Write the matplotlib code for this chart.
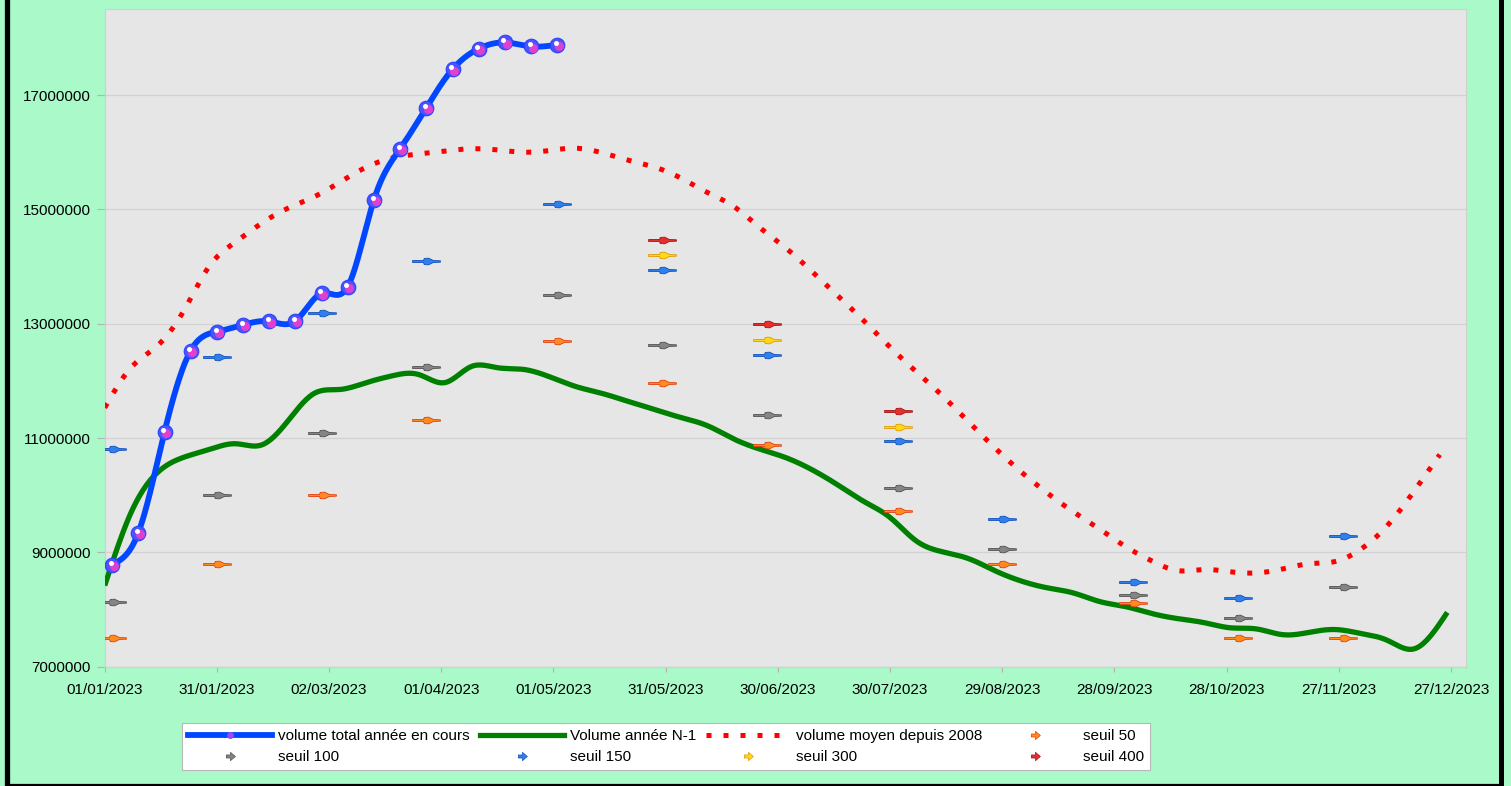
import numpy as np
import pandas as pd
import matplotlib
matplotlib.use("Agg")
import matplotlib.pyplot as plt
import matplotlib.dates as mdates
from matplotlib.path import Path
from matplotlib.lines import Line2D
from matplotlib import transforms
from matplotlib.ticker import FixedLocator, FuncFormatter

plt.rcParams['font.family'] = ['Liberation Sans', 'DejaVu Sans']

# volume total année en cours (weekly)
current_dates = pd.date_range('2023-01-03', periods=18, freq='7D')
current_volume = [8785000, 9345000, 11110000, 12530000, 12860000, 12980000,
                  13040000, 13050000, 13530000, 13650000, 15170000, 16060000,
                  16780000, 17450000, 17810000, 17920000, 17850000, 17880000]

# Volume année N-1
previous_dates = list(pd.date_range('2023-01-01', periods=51, freq='7D')) + [pd.Timestamp('2023-12-26')]
previous_volume = [8420000, 9690000, 10390000, 10660000, 10800000, 10900000, 10880000,
                   11300000, 11780000, 11850000, 11970000, 12090000, 12110000, 11970000,
                   12250000, 12230000, 12200000, 12070000, 11900000, 11780000, 11640000,
                   11500000, 11360000, 11220000, 10990000, 10810000, 10660000, 10450000,
                   10180000, 9890000, 9610000, 9200000, 9010000, 8890000, 8680000,
                   8500000, 8380000, 8290000, 8140000, 8050000, 7930000, 7840000,
                   7770000, 7680000, 7660000, 7560000, 7600000, 7650000, 7580000,
                   7460000, 7310000, 7950000]

# volume moyen depuis 2008
mean_dates = pd.date_range('2023-01-01', periods=52, freq='7D')
mean_volume = [11530000, 12230000, 12610000, 13210000, 14010000, 14430000, 14760000,
               15020000, 15220000, 15480000, 15740000, 15900000, 15970000, 16020000,
               16060000, 16040000, 16000000, 16030000, 16070000, 15990000, 15860000,
               15740000, 15550000, 15300000, 15060000, 14690000, 14330000, 13920000,
               13490000, 13050000, 12590000, 12160000, 11740000, 11280000, 10830000,
               10410000, 10040000, 9710000, 9410000, 9100000, 8850000, 8680000,
               8700000, 8660000, 8640000, 8710000, 8800000, 8840000, 9060000,
               9470000, 10060000, 10710000]

# seuils
seuil_dates = pd.to_datetime(['2023-01-03', '2023-01-31', '2023-02-28', '2023-03-28',
                              '2023-05-02', '2023-05-30', '2023-06-27', '2023-08-01',
                              '2023-08-29', '2023-10-03', '2023-10-31', '2023-11-28'])
nan = np.nan
seuil_50 = [7510000, 8800000, 10010000, 11320000, 12700000, 11970000,
            10870000, 9730000, 8790000, 8110000, 7500000, 7500000]
seuil_100 = [8140000, 10010000, 11080000, 12250000, 13510000, 12620000,
             11400000, 10130000, 9050000, 8250000, 7850000, 8390000]
seuil_150 = [10800000, 12410000, 13190000, 14100000, 15100000, 13940000,
             12450000, 10940000, 9590000, 8490000, 8200000, 9290000]
seuil_300 = [nan, nan, nan, nan, nan, 14200000, 12720000, 11200000, nan, nan, nan, nan]
seuil_400 = [nan, nan, nan, nan, nan, 14460000, 13000000, 11470000, nan, nan, nan, nan]

tick_dates = pd.date_range('2023-01-01', periods=13, freq='30D')
y_ticks = [7000000, 9000000, 11000000, 13000000, 15000000, 17000000]


def smooth(x, y, num=800):
    # natural cubic spline, like the "smooth line" option of the spreadsheet
    x = np.asarray(x, float)
    y = np.asarray(y, float)
    n = len(x)
    h = np.diff(x)
    A = np.zeros((n, n))
    b = np.zeros(n)
    A[0, 0] = A[-1, -1] = 1
    for i in range(1, n - 1):
        A[i, i - 1] = h[i - 1]
        A[i, i] = 2 * (h[i - 1] + h[i])
        A[i, i + 1] = h[i]
        b[i] = 6 * ((y[i + 1] - y[i]) / h[i] - (y[i] - y[i - 1]) / h[i - 1])
    m = np.linalg.solve(A, b)
    xs = np.linspace(x[0], x[-1], num)
    k = np.clip(np.searchsorted(x, xs) - 1, 0, n - 2)
    t0 = xs - x[k]
    t1 = x[k + 1] - xs
    hk = h[k]
    ys = (m[k] * t1 ** 3 + m[k + 1] * t0 ** 3) / (6 * hk) \
        + (y[k] / hk - m[k] * hk / 6) * t1 + (y[k + 1] / hk - m[k + 1] * hk / 6) * t0
    return xs, ys


# arrow shaped marker for the thresholds
arrow_verts = [(-1, -0.07), (-0.22, -0.07), (-0.16, -0.22), (0.15, -0.24), (0.5, -0.07),
               (1, -0.05), (1, 0.05), (0.5, 0.07), (0.15, 0.24), (-0.16, 0.22),
               (-0.22, 0.07), (-1, 0.07), (-1, -0.07)]
arrow = Path(arrow_verts)
small_arrow = Path([(-0.6, -0.22), (0.0, -0.22), (0.0, -0.6), (0.7, 0.0), (0.0, 0.6),
                    (0.0, 0.22), (-0.6, 0.22), (-0.6, -0.22)])

seuil_styles = [
    ('seuil 50', seuil_50, '#ff8a1e', '#e0400c'),
    ('seuil 100', seuil_100, '#858585', '#505050'),
    ('seuil 150', seuil_150, '#2f80ea', '#1050c0'),
    ('seuil 300', seuil_300, '#ffd816', '#e09a00'),
    ('seuil 400', seuil_400, '#e43030', '#a81010'),
]

fig = plt.figure(figsize=(15.11, 7.86), dpi=100, facecolor='#a9f9c9')
ax = fig.add_axes([0.0693, 0.1518, 0.9009, 0.8364])
ax.set_facecolor('#e6e6e6')

xc = mdates.date2num(current_dates)
xp = mdates.date2num(previous_dates)
xm = mdates.date2num(mean_dates)
xsd = mdates.date2num(seuil_dates)

gx, gy = smooth(xp, previous_volume)
ax.plot(gx, gy, color='#008000', lw=3.8, zorder=3, solid_capstyle='butt')

rx, ry = smooth(xm, mean_volume)
ax.plot(rx, ry, color='#ff0000', lw=3.6, linestyle=(0, (1, 2.4)), zorder=4,
        dash_capstyle='butt')

for label, vals, face, edge in seuil_styles:
    ax.plot(xsd, vals, linestyle='none', marker=arrow, markersize=20,
            markerfacecolor=face, markeredgecolor=edge, markeredgewidth=0.6, zorder=4.5)

bx, by = smooth(xc, current_volume)
ax.plot(bx, by, color='#0047ff', lw=4.2, zorder=5, solid_capstyle='butt')

# glossy spheres on the current-year points
ax.plot(xc, current_volume, linestyle='none', marker='o', markersize=10.5,
        markerfacecolor='#4a55ff', markeredgecolor='#2a40ff', markeredgewidth=0.8, zorder=6)
lower = transforms.offset_copy(ax.transData, fig=fig, x=1.2, y=-1.2, units='points')
ax.plot(xc, current_volume, linestyle='none', marker='o', markersize=6.5,
        markerfacecolor='#e040d0', markeredgecolor='none', transform=lower, zorder=6.1)
upper = transforms.offset_copy(ax.transData, fig=fig, x=-1.0, y=1.4, units='points')
ax.plot(xc, current_volume, linestyle='none', marker='o', markersize=3.6,
        markerfacecolor='white', markeredgecolor='none', transform=upper, zorder=6.2)

ax.set_xlim(mdates.date2num(pd.Timestamp('2023-01-01')), mdates.date2num(pd.Timestamp('2023-12-31')))
ax.set_ylim(7000000, 18500000)

ax.xaxis.set_major_locator(FixedLocator(mdates.date2num(tick_dates)))
ax.xaxis.set_major_formatter(mdates.DateFormatter('%d/%m/%Y'))
ax.yaxis.set_major_locator(FixedLocator(y_ticks))
ax.yaxis.set_major_formatter(FuncFormatter(lambda v, p: '%d' % v))

ax.grid(axis='y', color='#d2d2d2', lw=0.9)
ax.set_axisbelow(True)
ax.tick_params(axis='y', length=5.5, width=0.8, color='#b3b3b3', pad=4.3, labelsize=11)
ax.tick_params(axis='x', length=3.5, width=0.8, color='#b3b3b3', pad=8, labelsize=11)
for s in ax.spines.values():
    s.set_color('#d0d0d0')
    s.set_linewidth(0.8)

# legend
handles = {
    'volume total année en cours': Line2D([], [], color='#0047ff', lw=4.2, marker='o', markersize=4,
                                          markerfacecolor='#c040e0', markeredgecolor='#8050ff'),
    'Volume année N-1': Line2D([], [], color='#008000', lw=3.8),
    'volume moyen depuis 2008': Line2D([], [], color='#ff0000', lw=3.6, linestyle=(0, (1, 2.4))),
}
for label, vals, face, edge in seuil_styles:
    handles[label] = Line2D([], [], linestyle='none', marker=small_arrow, markersize=7,
                            markerfacecolor=face, markeredgecolor=edge, markeredgewidth=0.5)
order = ['volume total année en cours', 'seuil 100', 'Volume année N-1', 'seuil 150',
         'volume moyen depuis 2008', 'seuil 300', 'seuil 50', 'seuil 400']
leg = fig.legend([handles[k] for k in order], order, loc='center', bbox_to_anchor=(0.4408, 0.0503),
                 ncol=4, fontsize=11, frameon=True, fancybox=False, edgecolor='#b8b8b8',
                 facecolor='white', framealpha=1, handlelength=5.5, handletextpad=0.4,
                 columnspacing=0.65, labelspacing=0.45, borderpad=0.4, borderaxespad=0,
                 numpoints=1)
leg.get_frame().set_linewidth(0.8)

# black frame around the picture
fig.add_artist(Line2D([6.7 / 1511] * 2, [0, 1], transform=fig.transFigure, color='black', lw=3.8))
fig.add_artist(Line2D([1500.8 / 1511] * 2, [0, 1], transform=fig.transFigure, color='black', lw=3.6))
fig.add_artist(Line2D([6.7 / 1511, 1500.8 / 1511], [1.2 / 786] * 2, transform=fig.transFigure,
                      color='black', lw=1.6))

fig.savefig('out.png', dpi=100, facecolor=fig.get_facecolor())
